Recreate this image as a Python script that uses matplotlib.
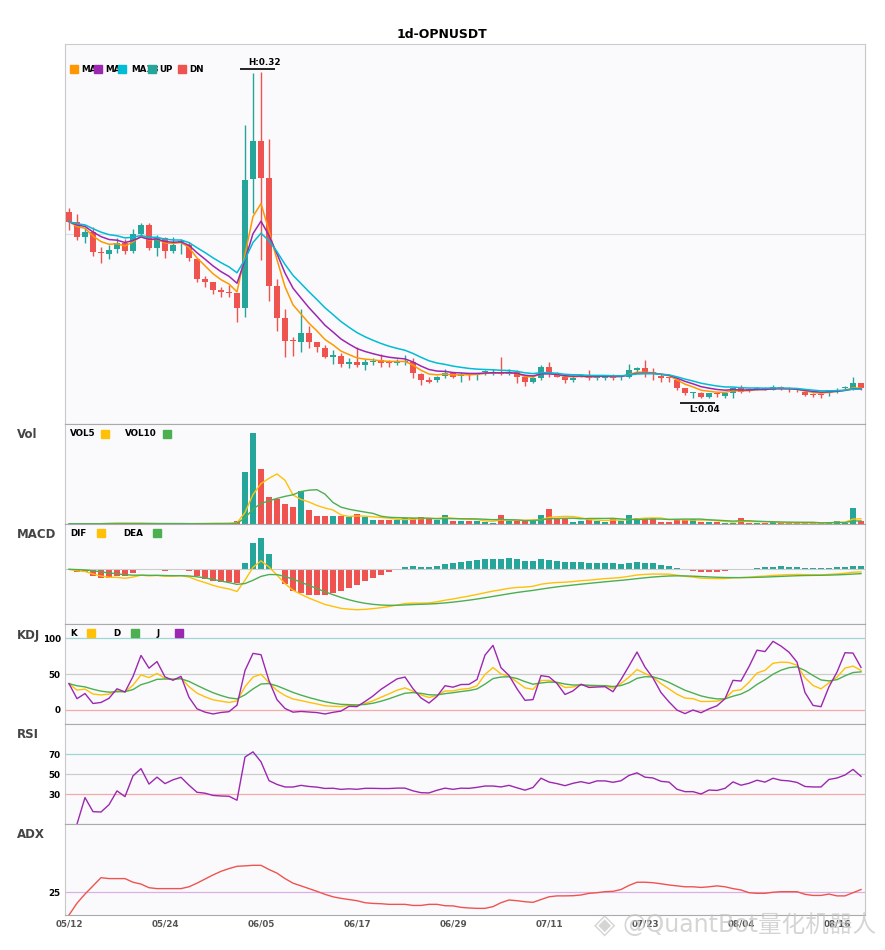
import numpy as np
import pandas as pd
import matplotlib
matplotlib.use("Agg")
import matplotlib.pyplot as plt
from matplotlib.patches import Rectangle

plt.rcParams["font.family"] = ["DejaVu Sans", "Noto Sans CJK SC"]

# ---- data (1d candles, OPN/USDT) ----
start_date = "2025-05-12"

opens = [
    0.1996, 0.1910, 0.1781, 0.1824, 0.1652, 0.1635, 0.1678, 0.1729, 0.1661, 0.1807,
    0.1884, 0.1686, 0.1772, 0.1661, 0.1738, 0.1712, 0.1592, 0.1420, 0.1394, 0.1325,
    0.1308, 0.1299, 0.1170, 0.2280, 0.2607, 0.2288, 0.1360, 0.1084, 0.0887, 0.0878,
    0.0955, 0.0878, 0.0826, 0.0749, 0.0757, 0.0689, 0.0706, 0.0680, 0.0702, 0.0723,
    0.0706, 0.0697, 0.0702, 0.0706, 0.0603, 0.0538, 0.0543, 0.0585, 0.0611, 0.0585,
    0.0603, 0.0594, 0.0618, 0.0603, 0.0620, 0.0603, 0.0620, 0.0577, 0.0534, 0.0560,
    0.0663, 0.0603, 0.0577, 0.0543, 0.0577, 0.0577, 0.0560, 0.0568, 0.0585, 0.0577,
    0.0577, 0.0629, 0.0654, 0.0607, 0.0585, 0.0564, 0.0551, 0.0474, 0.0435, 0.0439,
    0.0405, 0.0431, 0.0413, 0.0439, 0.0474, 0.0465, 0.0465, 0.0482, 0.0465, 0.0491,
    0.0474, 0.0469, 0.0448, 0.0422, 0.0422, 0.0431, 0.0448, 0.0478, 0.0474, 0.0517,
]
highs = [
    0.2030, 0.1979, 0.1858, 0.1867, 0.1695, 0.1712, 0.1772, 0.1764, 0.1850, 0.1901,
    0.1901, 0.1798, 0.1781, 0.1781, 0.1764, 0.1738, 0.1592, 0.1446, 0.1394, 0.1351,
    0.1368, 0.1299, 0.2744, 0.3191, 0.3200, 0.2624, 0.1420, 0.1162, 0.0921, 0.1162,
    0.1016, 0.0878, 0.0844, 0.0801, 0.0783, 0.0740, 0.0835, 0.0732, 0.0740, 0.0775,
    0.0723, 0.0732, 0.0766, 0.0740, 0.0611, 0.0577, 0.0585, 0.0646, 0.0620, 0.0620,
    0.0611, 0.0611, 0.0637, 0.0646, 0.0749, 0.0646, 0.0637, 0.0594, 0.0577, 0.0680,
    0.0706, 0.0620, 0.0594, 0.0594, 0.0603, 0.0637, 0.0594, 0.0594, 0.0603, 0.0585,
    0.0689, 0.0663, 0.0715, 0.0654, 0.0603, 0.0577, 0.0568, 0.0482, 0.0448, 0.0448,
    0.0439, 0.0448, 0.0448, 0.0482, 0.0508, 0.0482, 0.0491, 0.0491, 0.0508, 0.0499,
    0.0491, 0.0482, 0.0457, 0.0439, 0.0439, 0.0465, 0.0482, 0.0499, 0.0577, 0.0525,
]
lows = [
    0.1841, 0.1755, 0.1729, 0.1618, 0.1557, 0.1592, 0.1643, 0.1635, 0.1643, 0.1798,
    0.1669, 0.1618, 0.1600, 0.1643, 0.1635, 0.1575, 0.1394, 0.1351, 0.1291, 0.1265,
    0.1265, 0.1050, 0.1093, 0.1987, 0.1583, 0.1231, 0.0973, 0.0749, 0.0757, 0.0792,
    0.0826, 0.0792, 0.0740, 0.0689, 0.0663, 0.0654, 0.0663, 0.0629, 0.0680, 0.0663,
    0.0663, 0.0672, 0.0672, 0.0568, 0.0508, 0.0525, 0.0534, 0.0568, 0.0568, 0.0534,
    0.0551, 0.0543, 0.0586, 0.0594, 0.0594, 0.0594, 0.0525, 0.0499, 0.0525, 0.0551,
    0.0577, 0.0573, 0.0525, 0.0534, 0.0573, 0.0543, 0.0551, 0.0551, 0.0551, 0.0551,
    0.0568, 0.0620, 0.0577, 0.0543, 0.0534, 0.0534, 0.0457, 0.0422, 0.0396, 0.0393,
    0.0396, 0.0405, 0.0396, 0.0396, 0.0439, 0.0448, 0.0457, 0.0457, 0.0457, 0.0465,
    0.0448, 0.0448, 0.0413, 0.0405, 0.0396, 0.0413, 0.0439, 0.0465, 0.0465, 0.0465,
]
closes = [
    0.1910, 0.1781, 0.1824, 0.1652, 0.1643, 0.1669, 0.1729, 0.1661, 0.1807, 0.1884,
    0.1686, 0.1772, 0.1661, 0.1712, 0.1747, 0.1600, 0.1420, 0.1394, 0.1325, 0.1308,
    0.1299, 0.1170, 0.2271, 0.2607, 0.2288, 0.1360, 0.1084, 0.0887, 0.0882, 0.0955,
    0.0878, 0.0835, 0.0749, 0.0757, 0.0689, 0.0706, 0.0680, 0.0706, 0.0706, 0.0697,
    0.0697, 0.0706, 0.0706, 0.0611, 0.0543, 0.0534, 0.0577, 0.0611, 0.0577, 0.0594,
    0.0590, 0.0603, 0.0620, 0.0620, 0.0603, 0.0620, 0.0577, 0.0534, 0.0560, 0.0663,
    0.0603, 0.0577, 0.0543, 0.0568, 0.0585, 0.0560, 0.0585, 0.0585, 0.0568, 0.0581,
    0.0629, 0.0654, 0.0611, 0.0603, 0.0568, 0.0560, 0.0474, 0.0439, 0.0439, 0.0405,
    0.0431, 0.0426, 0.0439, 0.0482, 0.0448, 0.0461, 0.0482, 0.0465, 0.0491, 0.0474,
    0.0469, 0.0457, 0.0422, 0.0418, 0.0418, 0.0457, 0.0465, 0.0482, 0.0517, 0.0474,
]
# volume in millions (no scale shown on the chart)
volumes = [
    0.3, 0.3, 0.2, 0.4, 0.3, 1.3, 1.3, 0.3, 0.4, 0.3,
    0.3, 0.2, 0.2, 0.2, 0.2, 0.4, 1.0, 0.4, 1.0, 0.4,
    0.7, 3.3, 51.7, 90.3, 54.3, 27.3, 25.0, 20.3, 17.3, 32.3,
    14.3, 7.7, 7.7, 7.7, 7.7, 6.7, 10.3, 6.7, 4.3, 4.3,
    3.7, 4.3, 5.7, 5.7, 7.3, 5.0, 4.3, 9.3, 3.3, 3.3,
    3.3, 3.3, 2.3, 1.3, 9.3, 2.7, 2.7, 2.7, 3.3, 9.3,
    15.3, 5.0, 5.0, 2.3, 3.3, 6.0, 3.3, 2.3, 5.0, 2.7,
    9.3, 6.0, 6.0, 6.0, 2.3, 2.3, 5.3, 4.3, 5.0, 2.3,
    2.3, 2.3, 1.3, 1.3, 6.3, 1.3, 1.3, 1.3, 1.7, 1.0,
    1.0, 1.0, 1.0, 1.0, 1.0, 2.3, 3.3, 1.3, 16.3, 2.7,
]
adx_values = [
    0, 13, 23, 32, 41, 40, 40, 40, 36, 34,
    30, 29, 29, 29, 29, 31, 35, 39.5, 44, 48,
    51, 53.5, 54, 54.6, 54.6, 50, 46, 40, 35, 32,
    29, 26, 22.7, 20, 18.3, 17, 15.7, 13.5, 12.7, 12.4,
    11.7, 11.7, 11.7, 10.5, 10.5, 11.7, 11.7, 10.2, 10, 8.4,
    7.7, 7.3, 7.3, 9.2, 13.5, 16.5, 15.7, 14.6, 13.9, 17,
    20, 21, 21, 21.2, 22, 23.8, 24.5, 25.6, 26, 28,
    32.5, 36, 36, 35.5, 34.3, 33, 32, 31, 31, 30.3,
    31, 32, 31, 29, 27.5, 24.5, 23.8, 23.8, 25, 25.6,
    25.6, 25.6, 22.7, 21.5, 21.5, 23, 21, 21, 24.5, 28,
]

UP = "#26a69a"
DN = "#ef5350"
ORANGE = "#ff9800"
PURPLE = "#9c27b0"
CYAN = "#00bcd4"
YELLOW = "#ffc107"
GREEN = "#4caf50"
BG = "#fafafc"

df = pd.DataFrame({"open": opens, "high": highs, "low": lows,
                   "close": closes, "vol": volumes})
n = len(df)
x = np.arange(n)
dates = pd.date_range(start_date, periods=n, freq="D")
c = df["close"]

# indicators
ma5 = c.ewm(span=5, adjust=False).mean()
ma8 = c.ewm(span=8, adjust=False).mean()
ma13 = c.ewm(span=13, adjust=False).mean()

vol5 = df["vol"].rolling(5, min_periods=1).mean()
vol10 = df["vol"].rolling(10, min_periods=1).mean()

dif = c.ewm(span=12, adjust=False).mean() - c.ewm(span=26, adjust=False).mean()
dea = dif.ewm(span=9, adjust=False).mean()
macd_hist = 2 * (dif - dea)

llv = df["low"].rolling(9, min_periods=1).min()
hhv = df["high"].rolling(9, min_periods=1).max()
rsv = (c - llv) / (hhv - llv) * 100
k_line = rsv.ewm(com=2, adjust=False).mean()
d_line = k_line.ewm(com=2, adjust=False).mean()
j_line = 3 * k_line - 2 * d_line

# RSI with Wilder smoothing
delta = c.diff()
gain = delta.clip(lower=0).ewm(alpha=1 / 14, adjust=True).mean()
loss = (-delta).clip(lower=0).ewm(alpha=1 / 14, adjust=True).mean()
rsi = 100 * gain / (gain + loss)

up = (df["close"] >= df["open"]).values
colors = np.where(up, UP, DN)

# ---- figure layout (pixel based) ----
W, H = 885, 950
fig = plt.figure(figsize=(W / 100, H / 100), dpi=100)


def add_panel(top, bottom, share=None):
    ax = fig.add_axes([65 / W, 1 - bottom / H, 800 / W, (bottom - top) / H],
                      sharex=share)
    ax.set_facecolor(BG)
    for side in ["left", "right"]:
        ax.spines[side].set_color("#c8c8c8")
    for side in ["top", "bottom"]:
        ax.spines[side].set_color("#aaaaaa")
    for sp in ax.spines.values():
        sp.set_linewidth(0.8)
    ax.tick_params(length=0, labelsize=6.3, pad=3)
    ax.tick_params(axis="x", labelbottom=False)
    return ax


ax = add_panel(44, 424)
ax_vol = add_panel(424, 524, ax)
ax_macd = add_panel(524, 624, ax)
ax_kdj = add_panel(624, 724, ax)
ax_rsi = add_panel(724, 824, ax)
ax_adx = add_panel(824, 915, ax)
ax.spines["top"].set_color("#cccccc")

# ---- candles ----
body_lo = np.minimum(df["open"], df["close"])
body_h = np.maximum((df["close"] - df["open"]).abs(), 0.0009)
ax.vlines(x, df["low"], df["high"], colors=colors, lw=1, zorder=2)
ax.bar(x, body_h, bottom=body_lo, width=0.72, color=colors, lw=0, zorder=3)
ax.plot(x, ma5, color=ORANGE, lw=1.1, zorder=4)
ax.plot(x, ma8, color=PURPLE, lw=1.1, zorder=4)
ax.plot(x, ma13, color=CYAN, lw=1.1, zorder=4)

hi, lo = df["high"].max(), df["low"].min()
ihi, ilo = int(df["high"].idxmax()), int(df["low"].idxmin())
rng = hi - lo
ax.set_xlim(-0.5, n - 0.5)
ax.set_ylim(lo - 0.08 * rng, hi + 0.085 * rng)
mid = sum(ax.get_ylim()) / 2
ax.set_yticks([mid])
ax.set_yticklabels([])
ax.yaxis.grid(True, color="#dcdce4", lw=0.8)
ax.set_axisbelow(True)

ax.hlines(hi + 0.002, ihi - 2.6, ihi + 1.8, color="black", lw=1.2, zorder=5)
ax.annotate(f"H:{hi:.2f}", (ihi + 0.4, hi + 0.002), xytext=(0, 1.5),
            textcoords="offset points", ha="center", va="bottom",
            fontsize=6.3, fontweight="bold")
ax.hlines(lo - 0.004, ilo - 2.6, ilo + 1.8, color="black", lw=1.2, zorder=5)
ax.annotate(f"L:{lo:.2f}", (ilo + 0.4, lo - 0.004), xytext=(0, -1.5),
            textcoords="offset points", ha="center", va="top",
            fontsize=6.3, fontweight="bold")

# ---- volume ----
ax_vol.bar(x, df["vol"], width=0.72, color=colors, lw=0)
ax_vol.plot(x, vol5, color=YELLOW, lw=1)
ax_vol.plot(x, vol10, color=GREEN, lw=1)
ax_vol.set_ylim(0, df["vol"].max() * 1.1)
ax_vol.set_yticks([])

# ---- MACD ----
ax_macd.axhline(0, color="#cccccc", lw=0.8)
ax_macd.bar(x, macd_hist, width=0.72,
            color=np.where(macd_hist >= 0, UP, DN), lw=0)
ax_macd.plot(x, dif, color=YELLOW, lw=1)
ax_macd.plot(x, dea, color=GREEN, lw=1)
ax_macd.margins(y=0.2)
ax_macd.set_yticks([])

# ---- KDJ ----
ax_kdj.axhline(100, color="#9fd6d2", lw=0.9)
ax_kdj.axhline(50, color="#cccccc", lw=0.9)
ax_kdj.axhline(0, color="#f5aaaa", lw=0.9)
ax_kdj.plot(x, k_line, color=YELLOW, lw=1)
ax_kdj.plot(x, d_line, color=GREEN, lw=1)
ax_kdj.plot(x, j_line, color=PURPLE, lw=1)
ax_kdj.set_ylim(-20, 120)
ax_kdj.set_yticks([0, 50, 100])

# ---- RSI ----
ax_rsi.axhline(70, color="#9fd6d2", lw=0.9)
ax_rsi.axhline(50, color="#cccccc", lw=0.9)
ax_rsi.axhline(30, color="#f5aaaa", lw=0.9)
ax_rsi.plot(x, rsi, color=PURPLE, lw=1)
ax_rsi.set_ylim(0, 100)
ax_rsi.set_yticks([30, 50, 70])

# ---- ADX ----
ax_adx.axhline(25, color="#dcb0e4", lw=0.9)
ax_adx.plot(x, adx_values, color=DN, lw=1)
ax_adx.set_ylim(0, 100)
ax_adx.set_yticks([25])

for a in (ax_kdj, ax_rsi, ax_adx):
    for lab in a.get_yticklabels():
        lab.set_fontweight("bold")

tick_pos = x[::12]
ax_adx.set_xticks(tick_pos)
ax_adx.set_xticklabels([d.strftime("%m/%d") for d in dates[tick_pos]])
ax_adx.tick_params(axis="x", labelbottom=True, colors="#555555", pad=3)
for lab in ax_adx.get_xticklabels():
    lab.set_fontweight("bold")


# ---- text, legends ----
def fig_text(px, py, s, **kw):
    fig.text(px / W, 1 - py / H, s, va="center", **kw)


def legend_item(label, color, tx, sx, py):
    fig_text(tx, py, label, ha="left", fontsize=6.3, fontweight="bold", zorder=5)
    fig.add_artist(Rectangle((sx / W, 1 - (py + 3.8) / H), 7.5 / W, 7.5 / H,
                             transform=fig.transFigure, color=color, zorder=6))


fig_text(442, 34, "1d-OPNUSDT", ha="center", fontsize=9, fontweight="bold")

for label, color, tx, sx in [("MA5", ORANGE, 81, 70), ("MA8", PURPLE, 105, 94),
                             ("MA13", CYAN, 131, 118), ("UP", UP, 159, 148),
                             ("DN", DN, 189, 178)]:
    legend_item(label, color, tx, sx, 69)
legend_item("VOL5", YELLOW, 70, 101, 434)
legend_item("VOL10", GREEN, 125, 163, 434)
legend_item("DIF", YELLOW, 70, 97, 533)
legend_item("DEA", GREEN, 123, 153, 533)
legend_item("K", YELLOW, 70, 87, 633)
legend_item("D", GREEN, 113, 131, 633)
legend_item("J", PURPLE, 157, 175, 633)

for name, py in [("Vol", 435), ("MACD", 535), ("KDJ", 635), ("RSI", 735), ("ADX", 835)]:
    fig_text(17, py, name, ha="left", fontsize=8.5, fontweight="bold", color="#444444")

# watermark of the source, lying over the bottom-right date labels as in the original
fig_text(594, 925, "◈", ha="left", fontsize=20, color="#c4c4c4", alpha=0.7, zorder=7)
fig_text(622, 925, "@QuantBot量化机器人", ha="left", fontsize=17,
         color="#c4c4c4", alpha=0.7, zorder=7)

fig.savefig("out.png", dpi=100, facecolor="white")
